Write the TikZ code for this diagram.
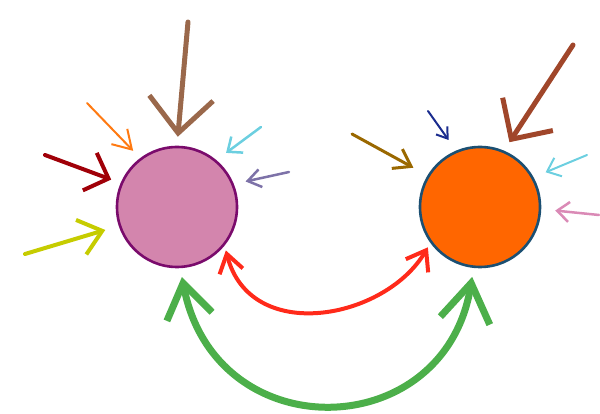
\documentclass[tikz,border=0pt]{standalone}
\usetikzlibrary{arrows.meta}

\definecolor{ballpink}{HTML}{D385AD}
\definecolor{rimpurple}{HTML}{7A0B6C}
\definecolor{ballorange}{HTML}{FF6600}
\definecolor{rimblue}{HTML}{1B4F72}
\definecolor{inbrown}{HTML}{9A684B}
\definecolor{inorange}{HTML}{FF7A12}
\definecolor{indarkred}{HTML}{A00008}
\definecolor{inyellow}{HTML}{C6CC00}
\definecolor{incyan}{HTML}{6CCFE0}
\definecolor{inlilac}{HTML}{7D72A8}
\definecolor{inrust}{HTML}{A0462A}
\definecolor{innavy}{HTML}{1A2C8E}
\definecolor{inolive}{HTML}{9A6800}
\definecolor{inrose}{HTML}{DA8AB6}
\definecolor{linkred}{HTML}{FF2A1A}
\definecolor{linkgreen}{HTML}{4CAF4A}

\tikzset{
  ball/.style={circle, minimum size=120pt, inner sep=0pt, line width=2.6pt},
  brush/.style={line cap=round, line join=round},
  barb/.style 2 args={-{Straight Barb[length=#1pt, width=#2pt]}}
}

\begin{document}
\begin{tikzpicture}[x=1pt, y=-1pt]
  \useasboundingbox (0,0) rectangle (600,414);

  % The two balls
  \node[ball, fill=ballpink, draw=rimpurple] (pinkball) at (177,207) {};
  \node[ball, fill=ballorange, draw=rimblue] (orangeball) at (480,207) {};

  % Tails of the incoming arrows
  \coordinate (brownTail) at (188,22);
  \coordinate (orangeTail) at (87,103);
  \coordinate (darkredTail) at (45,155);
  \coordinate (yellowTail) at (25,254);
  \coordinate (cyanTail) at (261,127);
  \coordinate (lilacTail) at (289,172);
  \coordinate (rustTail) at (573,45);
  \coordinate (navyTail) at (428,111);
  \coordinate (oliveTail) at (352,134);
  \coordinate (cyanTwoTail) at (587,155);
  \coordinate (roseTail) at (599,215);

  % Arrows into the pink ball
  \draw[brush, inbrown, line width=5pt, barb={35}{64}, shorten >=9pt] (brownTail) -- (pinkball.90);
  \draw[brush, inorange, line width=2pt, barb={18}{22}, shorten >=10pt] (orangeTail) -- (pinkball.127);
  \draw[brush, indarkred, line width=4pt, barb={20}{40}, shorten >=10pt] (darkredTail) -- (pinkball.157);
  \draw[brush, inyellow, line width=4pt, barb={22}{36}, shorten >=14pt] (yellowTail) -- (pinkball.198);
  \draw[brush, incyan, line width=2.5pt, barb={12}{20}, shorten >=12pt] (cyanTail) -- (pinkball.50);
  \draw[brush, inlilac, line width=2.5pt, barb={13}{18}, shorten >=12pt] (lilacTail) -- (pinkball.22);

  % Arrows into the orange ball
  \draw[brush, inrust, line width=5pt, barb={30}{60}, shorten >=10pt] (rustTail) -- (orangeball.67);
  \draw[brush, innavy, line width=2pt, barb={10}{14}, shorten >=13pt] (navyTail) -- (orangeball.113);
  \draw[brush, inolive, line width=3pt, barb={16}{22}, shorten >=16pt] (oliveTail) -- (orangeball.149);
  \draw[brush, incyan, line width=2pt, barb={12}{20}, shorten >=13pt] (cyanTwoTail) -- (orangeball.29);
  \draw[brush, inrose, line width=2.5pt, barb={12}{20}, shorten >=14pt] (roseTail) -- (orangeball.-2);

  % Links between the balls
  \draw[brush, linkred, line width=4pt, {Straight Barb[length=18pt, width=24pt]}-{Straight Barb[length=18pt, width=26pt]},
    shorten <=5pt, shorten >=5pt]
    (pinkball.-39) .. controls (250,345) and (385,320) .. (orangeball.216);
  \draw[brush, linkgreen, line width=7pt, {Straight Barb[length=34pt, width=46pt]}-{Straight Barb[length=38pt, width=50pt]},
    shorten <=9pt, shorten >=9pt]
    (pinkball.-87) .. controls (215,450) and (445,445) .. (orangeball.264);
\end{tikzpicture}
\end{document}
